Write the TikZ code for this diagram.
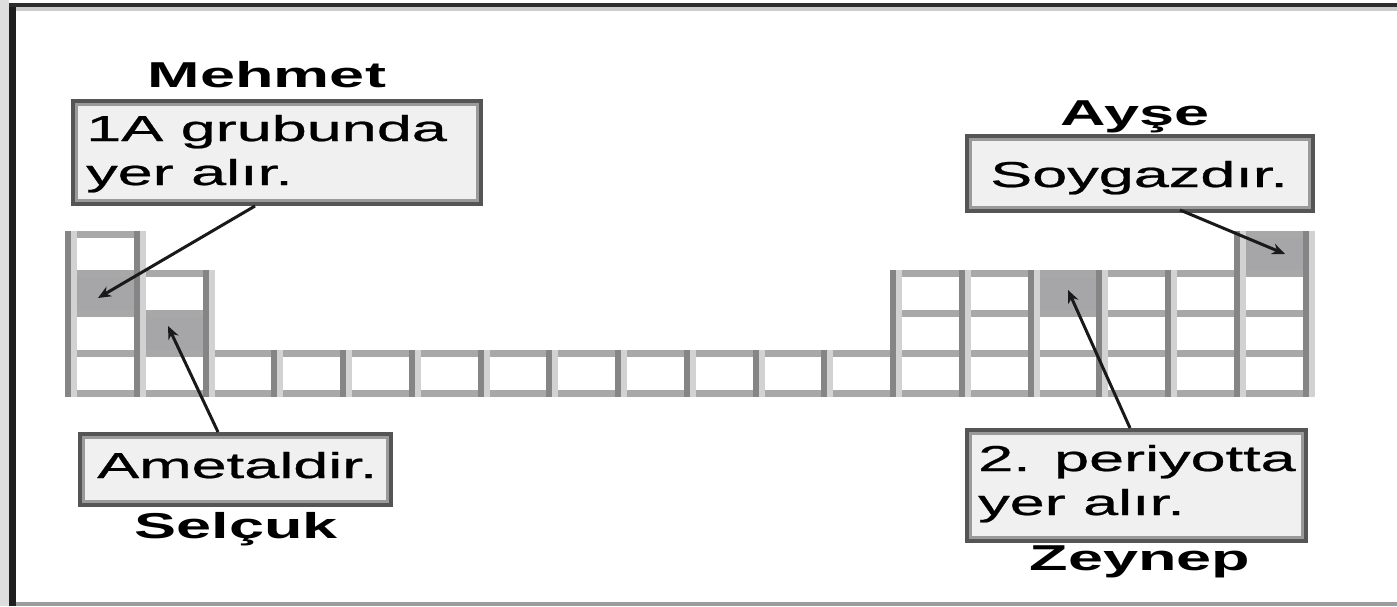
\documentclass[tikz,border=0pt]{standalone}
\usepackage{fontspec}
\setmainfont{Liberation Sans}
\newfontfamily\boxfont[FakeBold=0.6]{Liberation Sans}
\usetikzlibrary{arrows.meta}
\definecolor{frameblack}{HTML}{1F1F1F}
\definecolor{framelight}{HTML}{DDDDDD}
\definecolor{frametop}{HTML}{2D2D2D}
\definecolor{frametoplight}{HTML}{CCCCCC}
\definecolor{framebottom}{HTML}{9C9C9C}
\definecolor{boxfill}{HTML}{F0F0F0}
\definecolor{boxdark}{HTML}{555555}
\definecolor{boxlight}{HTML}{9A9A9A}
\definecolor{celldark}{HTML}{A6A6A8}
\definecolor{gridh}{HTML}{A8A8A8}
\definecolor{gridvd}{HTML}{858585}
\definecolor{gridvl}{HTML}{D2D2D2}
\newcommand\wide[1]{\scalebox{1.75}[1]{#1}}
\begin{document}
\begin{tikzpicture}[x=1pt,y=-1pt,
  lbox/.style={draw=boxlight, line width=3pt, fill=boxfill,
    preaction={draw=boxdark, line width=11pt}, inner sep=0pt},
  txt/.style={inner sep=0pt, font=\boxfont\fontsize{36}{44}\selectfont},
  personname/.style={inner sep=0pt, anchor=base, font=\bfseries\fontsize{36}{44}\selectfont},
  arr/.style={draw=black!90, line width=3pt, -{Stealth[length=13pt,width=11pt]}},
  hline/.style={draw=gridh, line width=7pt},
  vdark/.style={draw=gridvd, line width=6pt},
  vlight/.style={draw=gridvl, line width=6pt},
  shadedcell/.style={fill=celldark}]
\useasboundingbox (0,0) rectangle (1397,606);
% frame
\fill[framelight] (0,0) rectangle (9,606);
\fill[frameblack] (9,3) rectangle (16,606);
\fill[frametop] (9,3) rectangle (1397,7);
\fill[frametoplight] (16,7) rectangle (1397,11);
\fill[framebottom] (16,602) rectangle (1397,606);
% grid geometry
\def\X#1{\fpeval{71+68.75*(#1)}}
\def\Y#1{\fpeval{234+39.75*(#1)}}
% shaded cells
\fill[shadedcell] (\X{0},\Y{1}) rectangle (\X{1},\Y{2});
\fill[shadedcell] (\X{1},\Y{2}) rectangle (\X{2},\Y{3});
\fill[shadedcell] (\X{14},\Y{1}) rectangle (\X{15},\Y{2});
\fill[shadedcell] (\X{17},\Y{0}) rectangle (\X{18},\Y{1});
% horizontal lines
\draw[hline] (\X{0}-6,\Y{0}) -- (\X{1}+6,\Y{0});
\draw[hline] (\X{17}-6,\Y{0}) -- (\X{18}+6,\Y{0});
\foreach \r in {1,2}{
  \draw[hline] (\X{0}-6,\Y{\r}) -- (\X{2}+6,\Y{\r});
  \draw[hline] (\X{12}-6,\Y{\r}) -- (\X{18}+6,\Y{\r});
}
\foreach \r in {3,4}{
  \draw[hline] (\X{0}-6,\Y{\r}) -- (\X{18}+6,\Y{\r});
}
% vertical lines
\foreach \c/\t in {0/0,1/0,2/1,3/3,4/3,5/3,6/3,7/3,8/3,9/3,10/3,11/3,12/1,13/1,14/1,15/1,16/1,17/0,18/0}{
  \draw[vlight] (\X{\c}+3,\Y{\t}-3.5) -- (\X{\c}+3,\Y{4}+3.5);
  \draw[vdark] (\X{\c}-3,\Y{\t}-3.5) -- (\X{\c}-3,\Y{4}+3.5);
}
% boxes
\node[lbox, minimum width=401pt, minimum height=96pt] (mbox) at (277,152.5) {};
\node[lbox, minimum width=304pt, minimum height=64pt] (sbox) at (235.5,469.5) {};
\node[lbox, minimum width=339pt, minimum height=68pt] (abox) at (1140,173.5) {};
\node[lbox, minimum width=332pt, minimum height=104pt] (zbox) at (1136.5,485.5) {};
% box texts
\node[txt, anchor=base west] (mtxt) at (86,141) {\wide{\begin{tabular}[t]{@{}l@{}}1A grubunda\\yer alır.\end{tabular}}};
\node[txt, anchor=base west] (stxt) at (97,478) {\wide{Ametaldir.}};
\node[txt, anchor=base west] (atxt) at (990,187) {\wide{Soygazdır.}};
\node[txt, anchor=base west] (ztxt) at (978,471) {\wide{\begin{tabular}[t]{@{}l@{}}2. periyotta\\yer alır.\end{tabular}}};
% names
\node[personname] (mehmet) at (267,87) {\wide{Mehmet}};
\node[personname] (ayse) at (1135,125) {\wide{Ayşe}};
\node[personname] (selcuk) at (236,538) {\wide{Selçuk}};
\node[personname] (zeynep) at (1140,570) {\wide{Zeynep}};
% arrows
\coordinate (m1) at (255,206);
\coordinate (m2) at (98,298);
\coordinate (s1) at (218,432);
\coordinate (s2) at (168,326);
\coordinate (a1) at (1180,210);
\coordinate (a2) at (1285,254);
\coordinate (z1) at (1130,428);
\coordinate (z2) at (1068,290);
\draw[arr] (m1) -- (m2);
\draw[arr] (s1) -- (s2);
\draw[arr] (a1) -- (a2);
\draw[arr] (z1) -- (z2);
\end{tikzpicture}
\end{document}
